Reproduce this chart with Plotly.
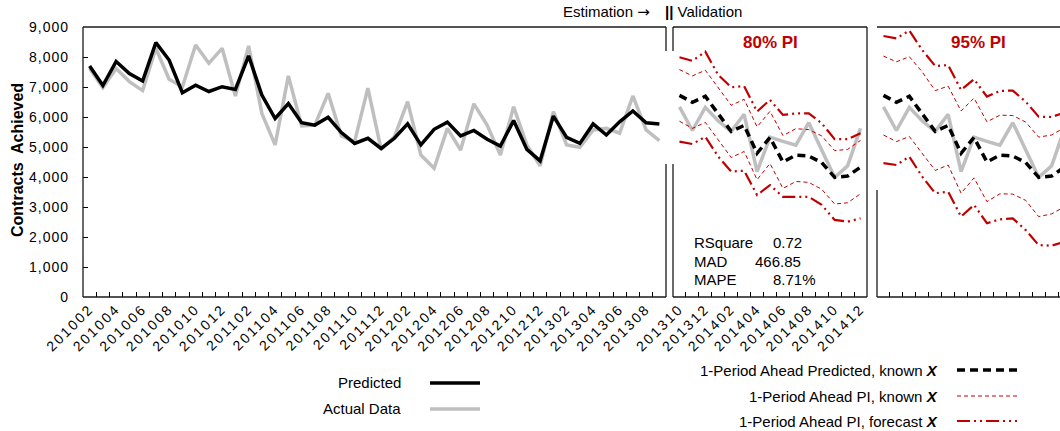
import plotly.graph_objects as go

# ---------------- data ----------------
est_months = ["201002","201003","201004","201005","201006","201007","201008","201009","201010","201011","201012",
              "201101","201102","201103","201104","201105","201106","201107","201108","201109","201110","201111","201112",
              "201201","201202","201203","201204","201205","201206","201207","201208","201209","201210","201211","201212",
              "201301","201302","201303","201304","201305","201306","201307","201308","201309"]
val_months = ["201310","201311","201312","201401","201402","201403","201404","201405","201406","201407","201408",
              "201409","201410","201411","201412"]

predicted = [7700, 7050, 7850, 7450, 7200, 8480, 7900, 6810, 7060, 6850, 7010, 6920, 8040, 6730, 5950,
             6450, 5810, 5730, 5990, 5480, 5120, 5290, 4950, 5290, 5770, 5070, 5590, 5830, 5370, 5550,
             5260, 5030, 5880, 4920, 4540, 6030, 5320, 5120, 5770, 5400, 5840, 6200, 5810, 5770]
actual = [7620, 6980, 7620, 7180, 6880, 8290, 7260, 7000, 8400, 7790, 8290, 6700, 8370, 6120, 5070,
          7370, 5700, 5730, 6790, 5370, 5180, 6960, 4920, 5340, 6510, 4730, 4290, 5620, 4900, 6440,
          5730, 4730, 6340, 5070, 4370, 6180, 5070, 4990, 5570, 5620, 5460, 6700, 5570, 5210]

val_predicted = [6720, 6490, 6690, 6100, 5520, 5720, 4790, 5320, 4500, 4730, 4700, 4480, 3990, 4030, 4330]
val_actual = [6340, 5550, 6320, 5870, 5520, 6090, 4180, 5330, 5190, 5060, 5810, 4910, 3990, 4370, 5620]

pi80_known_hi = [7580, 7370, 7560, 6960, 6390, 6590, 5670, 6190, 5380, 5610, 5580, 5370, 4880, 4920, 5220]
pi80_known_lo = [5860, 5620, 5820, 5240, 4650, 4850, 3910, 4450, 3620, 3850, 3820, 3590, 3100, 3140, 3440]
pi80_fc_hi = [7990, 7870, 8180, 7400, 6990, 7030, 6180, 6570, 6070, 6120, 6120, 5790, 5260, 5260, 5460]
pi80_fc_lo = [5180, 5100, 5340, 4680, 4180, 4210, 3400, 3730, 3340, 3340, 3340, 3070, 2570, 2510, 2620]

pi95_known_hi = [8030, 7840, 8010, 7500, 6880, 7030, 6200, 6630, 5840, 6060, 6050, 5830, 5330, 5400, 5650]
pi95_known_lo = [5400, 5180, 5350, 4790, 4220, 4400, 3460, 3970, 3180, 3440, 3430, 3220, 2680, 2770, 3010]
pi95_fc_hi = [8700, 8620, 8880, 8230, 7700, 7730, 6900, 7260, 6680, 6870, 6880, 6510, 6010, 6000, 6150]
pi95_fc_lo = [4460, 4400, 4680, 4010, 3460, 3510, 2680, 3070, 2460, 2590, 2620, 2230, 1730, 1710, 1840]

y_ticks = [0, 1000, 2000, 3000, 4000, 5000, 6000, 7000, 8000, 9000]
stats_labels = ["RSquare", "MAD", "MAPE"]
stats_values = ["0.72", "466.85", "8.71%"]

# ---------------- layout helpers ----------------
W, H = 1060, 431
FONT = "Liberation Sans, Arial, sans-serif"
RED = "#C00000"
GRAY = "#BFBFBF"

def px(x):
    return x / W

def py(y):
    return 1 - y / H

PI_KNOWN_DASH = "4px,3px"
PI_FC_DASH = "13px,4px,2px,4px,2px,4px"
PRED_DASH = "8px,5px"

fig = go.Figure()

# main panel
fig.add_trace(go.Scatter(x=est_months, y=actual, mode="lines", line=dict(color=GRAY, width=3.5),
                         xaxis="x", yaxis="y", showlegend=False))
fig.add_trace(go.Scatter(x=est_months, y=predicted, mode="lines", line=dict(color="black", width=3.5),
                         xaxis="x", yaxis="y", showlegend=False))

# validation panels
for xa, kh, kl, fh, fl in [("x2", pi80_known_hi, pi80_known_lo, pi80_fc_hi, pi80_fc_lo),
                           ("x3", pi95_known_hi, pi95_known_lo, pi95_fc_hi, pi95_fc_lo)]:
    fig.add_trace(go.Scatter(x=val_months, y=val_actual, mode="lines", line=dict(color=GRAY, width=3.5),
                             xaxis=xa, yaxis="y", showlegend=False))
    for arr in (kh, kl):
        fig.add_trace(go.Scatter(x=val_months, y=arr, mode="lines",
                                 line=dict(color=RED, width=1, dash=PI_KNOWN_DASH),
                                 xaxis=xa, yaxis="y", showlegend=False))
    for arr in (fh, fl):
        fig.add_trace(go.Scatter(x=val_months, y=arr, mode="lines",
                                 line=dict(color=RED, width=2.2, dash=PI_FC_DASH),
                                 xaxis=xa, yaxis="y", showlegend=False))
    fig.add_trace(go.Scatter(x=val_months, y=val_predicted, mode="lines",
                             line=dict(color="black", width=3.5, dash=PRED_DASH),
                             xaxis=xa, yaxis="y", showlegend=False))

tickfont = dict(family=FONT, size=14, color="black")
xtickfont = dict(family=FONT, size=14, color="black")

main_ticktext = [m if i % 2 == 0 else "" for i, m in enumerate(est_months)]
val_ticktext = [m if i % 2 == 0 else "" for i, m in enumerate(val_months)]

common_x = dict(type="category", showline=False, showgrid=False, zeroline=False, ticks="inside",
                ticklen=5, tickwidth=1, tickcolor="black", tickson="boundaries", automargin=False,
                tickangle=-45, tickfont=xtickfont)

cat_w = (867 - 673) / len(val_months)
fig.update_layout(
    width=W, height=H, autosize=False, template="none",
    margin=dict(l=0, r=0, t=0, b=0),
    paper_bgcolor="white", plot_bgcolor="rgba(0,0,0,0)",
    showlegend=False,
    xaxis=dict(domain=[px(83), px(666)], anchor="y", range=[-0.5, len(est_months) - 0.5],
               categoryorder="array", categoryarray=est_months,
               tickmode="array", tickvals=est_months, ticktext=main_ticktext, **common_x),
    xaxis2=dict(domain=[px(673), px(867)], anchor="y", range=[-0.5, len(val_months) - 0.5],
                categoryorder="array", categoryarray=val_months,
                tickmode="array", tickvals=val_months, ticktext=val_ticktext, **common_x),
    xaxis3=dict(domain=[px(877), 1.0], anchor="y", range=[-0.5, -0.5 + (W - 877) / cat_w],
                categoryorder="array", categoryarray=val_months,
                tickmode="array", tickvals=val_months, ticktext=["" for _ in val_months],
                showticklabels=False, **common_x),
    yaxis=dict(domain=[py(297), py(27)], anchor="x", range=[0, 9000], showline=False, showgrid=False,
               zeroline=False, ticks="inside", ticklen=5, tickwidth=1, tickcolor="black",
               tickmode="array", tickvals=y_ticks, tickformat=",", tickfont=tickfont,
               ticklabelstandoff=13, automargin=False),
)

# frames
FR = dict(color="#1a1a1a", width=1.3)
segments = [
    ((83, 27), (666, 27)), ((83, 27), (83, 297)), ((83, 297), (666, 297)),
    ((666, 27), (666, 51)), ((666, 164), (666, 297)),
    ((673, 27), (867, 27)), ((673, 27), (673, 51)), ((673, 164), (673, 297)),
    ((673, 297), (867, 297)), ((867, 27), (867, 297)),
    ((877, 27), (1060, 27)), ((877, 190), (877, 297)), ((877, 297), (1060, 297)),
]
for (x0, y0), (x1, y1) in segments:
    fig.add_shape(type="line", xref="paper", yref="paper", x0=px(x0), y0=py(y0), x1=px(x1), y1=py(y1),
                  line=FR, layer="above")

def ann(text, x, y, xanchor="center", size=15, color="black", bold=False, angle=0):
    if bold:
        text = f"<b>{text}</b>"
    fig.add_annotation(text=text, x=px(x), y=py(y), xref="paper", yref="paper", showarrow=False,
                       xanchor=xanchor, yanchor="middle", textangle=angle,
                       font=dict(family=FONT, size=size, color=color))

ann("Contracts  Achieved", 17, 160, bold=True, angle=-90, size=16)
ann("Estimation <span style=\"font-family:DejaVu Sans\">\u2192</span>", 652, 12, xanchor="right", size=15)
ann("<b>||</b> Validation", 663, 12, xanchor="left", size=15)
ann("80% PI", 770, 43, bold=True, color=RED, size=17)
ann("95% PI", 978, 43, bold=True, color=RED, size=17)

for lab, val, yy, xr in zip(stats_labels, stats_values, [242, 261, 279], [804, 803, 818]):
    ann(lab, 692, yy, xanchor="left", size=15)
    ann(val, xr, yy, xanchor="right", size=15)

# legends (custom)
ann("Predicted", 403, 382, xanchor="right", size=15)
ann("Actual Data", 403, 408, xanchor="right", size=15)
fig.add_shape(type="line", xref="paper", yref="paper", x0=px(430), x1=px(480), y0=py(383), y1=py(383),
              line=dict(color="black", width=3.5))
fig.add_shape(type="line", xref="paper", yref="paper", x0=px(430), x1=px(480), y0=py(409), y1=py(409),
              line=dict(color=GRAY, width=3.5))

ann("1-Period Ahead Predicted, known <b><i>X</i></b>", 940, 370, xanchor="right", size=15)
ann("1-Period Ahead PI, known <b><i>X</i></b>", 940, 396, xanchor="right", size=15)
ann("1-Period Ahead PI, forecast <b><i>X</i></b>", 940, 421, xanchor="right", size=15)
fig.add_shape(type="line", xref="paper", yref="paper", x0=px(957), x1=px(1017), y0=py(370), y1=py(370),
              line=dict(color="black", width=3.5, dash=PRED_DASH))
fig.add_shape(type="line", xref="paper", yref="paper", x0=px(957), x1=px(1017), y0=py(396), y1=py(396),
              line=dict(color=RED, width=1, dash=PI_KNOWN_DASH))
fig.add_shape(type="line", xref="paper", yref="paper", x0=px(957), x1=px(1017), y0=py(421), y1=py(421),
              line=dict(color=RED, width=2.2, dash=PI_FC_DASH))

post = (
    "document.body.style.margin='0';document.body.style.overflow='hidden';"
    "document.querySelectorAll('g.xtick text, g.x2tick text').forEach(function(t){t.style.letterSpacing='2.2px';});"
    "document.querySelectorAll('g.ytick text').forEach(function(t){t.style.letterSpacing='1px';});"
)
fig.write_html("out.html", config={"displayModeBar": False}, post_script=post)
